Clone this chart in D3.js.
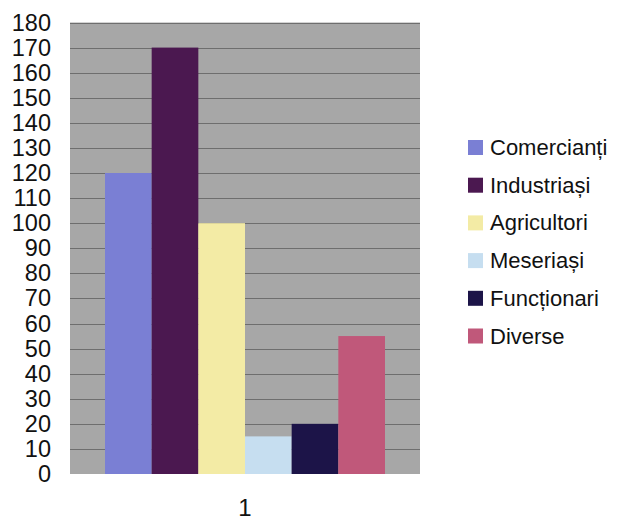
<!DOCTYPE html>
<html>
<head>
<meta charset="utf-8">
<script src="https://cdn.jsdelivr.net/npm/d3@7"></script>
<style>
  body { margin: 0; background: #fff; }
  text { font-family: "Liberation Sans", Arial, sans-serif; fill: #111; }
</style>
</head>
<body>
<script>
// Data
const categories = ["1"];
const seriesNames = ["Comercianți", "Industriași", "Agricultori", "Meseriași", "Funcționari", "Diverse"];
const seriesValues = [120, 170, 100, 15, 20, 55];
const yTicks = [0, 10, 20, 30, 40, 50, 60, 70, 80, 90, 100, 110, 120, 130, 140, 150, 160, 170, 180];
const colors = ["#7a7fd4", "#4b1850", "#f3eba5", "#c6def0", "#1c1448", "#c0587a"];

const width = 623, height = 520;
const plot = { left: 70, right: 420, top: 22.5, bottom: 474 };

const svg = d3.select("body").append("svg")
    .attr("width", width)
    .attr("height", height);

// Scales
const x0 = d3.scaleBand()
    .domain(categories)
    .range([plot.left, plot.right])
    .paddingInner(0)
    .paddingOuter(0.125);

const x1 = d3.scaleBand()
    .domain(seriesNames)
    .range([0, x0.bandwidth()]);

const y = d3.scaleLinear()
    .domain([0, 180])
    .range([plot.bottom, plot.top]);

// Plot area background
svg.append("rect")
    .attr("x", plot.left)
    .attr("y", plot.top)
    .attr("width", plot.right - plot.left)
    .attr("height", plot.bottom - plot.top)
    .attr("fill", "#a7a7a7");

// Gridlines
svg.append("g")
    .selectAll("line")
    .data(yTicks.filter(d => d > 0))
    .enter().append("line")
    .attr("x1", plot.left)
    .attr("x2", plot.right)
    .attr("y1", d => Math.round(y(d)) + 0.5)
    .attr("y2", d => Math.round(y(d)) + 0.5)
    .attr("stroke", "#6e6e6e")
    .attr("stroke-width", 1);

// Bars
const group = svg.append("g")
    .selectAll("g")
    .data(categories)
    .enter().append("g")
    .attr("transform", d => "translate(" + x0(d) + ",0)");

group.selectAll("rect")
    .data(seriesNames.map((name, i) => ({ name: name, value: seriesValues[i], color: colors[i] })))
    .enter().append("rect")
    .attr("x", d => x1(d.name))
    .attr("y", d => y(d.value))
    .attr("width", x1.bandwidth())
    .attr("height", d => y(0) - y(d.value))
    .attr("fill", d => d.color);

// Y axis
const yAxis = d3.axisLeft(y)
    .tickValues(yTicks)
    .tickSize(0)
    .tickPadding(19);

const gy = svg.append("g")
    .attr("transform", "translate(" + plot.left + ",0)")
    .call(yAxis);
gy.select(".domain").remove();
gy.selectAll("text")
    .style("font-size", "23.5px")
    .style("font-family", "'Liberation Sans', Arial, sans-serif")
    .attr("fill", "#111");

// X axis
const xAxis = d3.axisBottom(x0).tickSize(0).tickPadding(25);
const gx = svg.append("g")
    .attr("transform", "translate(0," + plot.bottom + ")")
    .call(xAxis);
gx.select(".domain").remove();
gx.selectAll("text")
    .style("font-size", "24px")
    .style("font-family", "'Liberation Sans', Arial, sans-serif")
    .attr("fill", "#111");

// Legend
const legend = svg.append("g")
    .attr("transform", "translate(468,147)")
    .selectAll("g")
    .data(seriesNames)
    .enter().append("g")
    .attr("transform", (d, i) => "translate(0," + (i * 37.7) + ")");

legend.append("rect")
    .attr("x", 0)
    .attr("y", -7)
    .attr("width", 15)
    .attr("height", 15)
    .attr("fill", (d, i) => colors[i]);

legend.append("text")
    .attr("x", 22)
    .attr("y", 8)
    .style("font-size", "22px")
    .text(d => d);
</script>
</body>
</html>
